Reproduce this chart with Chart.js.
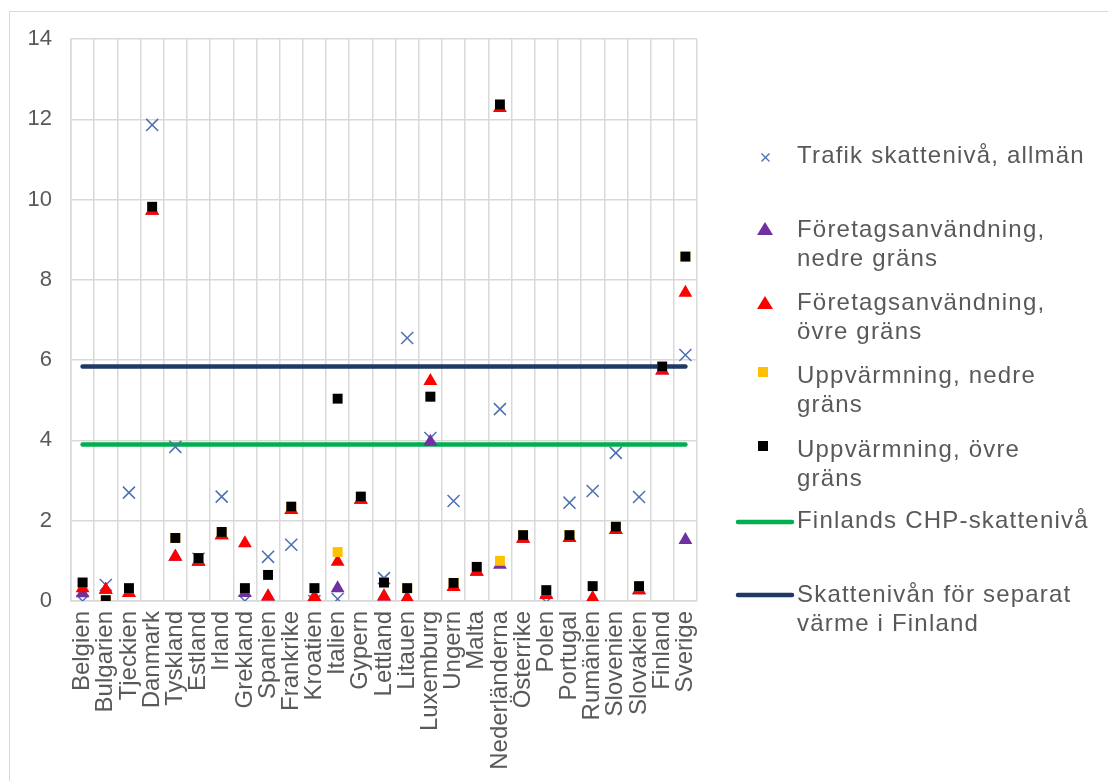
<!DOCTYPE html>
<html>
<head>
<meta charset="utf-8">
<script src="https://cdn.jsdelivr.net/npm/chart.js@4/dist/chart.umd.min.js"></script>
<style>
  html, body { margin: 0; padding: 0; background: #fff; }
  #wrap { position: relative; width: 1108px; height: 781px; overflow: hidden; }
  #frame { position: absolute; left: 9px; top: 11px; width: 1200px; height: 900px;
           border-left: 1.5px solid #d9d9d9; border-top: 1.5px solid #d9d9d9; }
  #chart { position: absolute; left: 0; top: 0; }
  .item { position: absolute; left: 797px; font-family: 'Liberation Sans', Arial, sans-serif;
          font-size: 24px; line-height: 29px; letter-spacing: 1.2px; color: #595959; white-space: nowrap; }
  .mark { position: absolute; }
</style>
</head>
<body>
<div id="wrap">
  <div id="frame"></div>
  <canvas id="chart" width="1108" height="781"></canvas>

  <svg class="mark" style="left:760px;top:152px" width="11" height="11"><path d="M1.5 1.5L9.5 9.5M9.5 1.5L1.5 9.5" stroke="#4e6fb0" stroke-width="1.3"/></svg>
  <div class="item" style="top:140px">Trafik skattenivå, allmän</div>

  <svg class="mark" style="left:757px;top:222px" width="16" height="13"><polygon points="8,0 16,13 0,13" fill="#7030a0"/></svg>
  <div class="item" style="top:214px">Företagsanvändning,<br>nedre gräns</div>

  <svg class="mark" style="left:757px;top:296px" width="16" height="13"><polygon points="8,0 16,13 0,13" fill="#ff0000"/></svg>
  <div class="item" style="top:287px">Företagsanvändning,<br>övre gräns</div>

  <svg class="mark" style="left:758px;top:367px" width="10" height="10"><rect width="10" height="10" fill="#ffc000"/></svg>
  <div class="item" style="top:360px">Uppvärmning, nedre<br>gräns</div>

  <svg class="mark" style="left:758px;top:441px" width="10" height="10"><rect width="10" height="10" fill="#000"/></svg>
  <div class="item" style="top:434px">Uppvärmning, övre<br>gräns</div>

  <svg class="mark" style="left:735px;top:518px" width="60" height="8"><line x1="3" y1="4" x2="57" y2="4" stroke="#00b050" stroke-width="4.5" stroke-linecap="round"/></svg>
  <div class="item" style="top:505px">Finlands CHP-skattenivå</div>

  <svg class="mark" style="left:735px;top:591px" width="60" height="8"><line x1="3" y1="4" x2="57" y2="4" stroke="#1f3864" stroke-width="4.5" stroke-linecap="round"/></svg>
  <div class="item" style="top:579px">Skattenivån för separat<br>värme i Finland</div>
</div>

<script>
// kategorier
const countries = ['Belgien', 'Bulgarien', 'Tjeckien', 'Danmark', 'Tyskland', 'Estland', 'Irland',
  'Grekland', 'Spanien', 'Frankrike', 'Kroatien', 'Italien', 'Gypern', 'Lettland', 'Litauen',
  'Luxemburg', 'Ungern', 'Malta', 'Nederländerna', 'Österrike', 'Polen', 'Portugal', 'Rumänien',
  'Slovenien', 'Slovakien', 'Finland', 'Sverige'];

const yTicks = [0, 2, 4, 6, 8, 10, 12, 14];

// serier
const trafik = [0, 0.4, 2.7, 11.86, 3.84, 1.05, 2.6, 0, 1.1, 1.4, 0, 0.05, null, 0.57, 6.55,
  4.06, 2.49, null, 4.78, null, -0.03, 2.45, 2.74, 3.69, 2.59, null, 6.13];
const foretagNedre = [0.19, 0.28, 0.2, 9.72, 1.1, 0.98, 1.64, 0.2, 0.11, 2.27, 0.1, 0.32, 2.52, 0.11, 0.07,
  3.97, 0.35, 0.73, 0.9, 1.55, 0.15, 1.57, 0.07, 1.77, 0.27, 5.74, 1.52];
const foretagOvre = [0.32, 0.28, 0.2, 9.72, 1.1, 0.98, 1.64, 1.44, 0.11, 2.27, 0.1, 0.98, 2.52, 0.11, 0.07,
  5.48, 0.35, 0.73, 12.28, 1.55, 0.15, 1.57, 0.07, 1.77, 0.27, 5.74, 7.68];
const varmeNedre = [0.46, 0.02, 0.32, 9.82, 1.57, 1.07, 1.72, 0.32, 0.65, 2.35, 0.32, 1.22, 2.6, 0.46, 0.32,
  5.09, 0.45, 0.85, 1.0, 1.64, 0.27, 1.64, 0.37, 1.85, 0.37, 5.84, 8.58];
const varmeOvre = [0.46, 0.02, 0.32, 9.82, 1.57, 1.07, 1.72, 0.32, 0.65, 2.35, 0.32, 5.04, 2.6, 0.46, 0.32,
  5.09, 0.45, 0.85, 12.37, 1.64, 0.27, 1.64, 0.37, 1.85, 0.37, 5.84, 8.58];
const finlandChp = [3.9, 3.9, 3.9, 3.9, 3.9, 3.9, 3.9, 3.9, 3.9, 3.9, 3.9, 3.9, 3.9, 3.9, 3.9,
  3.9, 3.9, 3.9, 3.9, 3.9, 3.9, 3.9, 3.9, 3.9, 3.9, 3.9, 3.9];
const separatVarme = [5.84, 5.84, 5.84, 5.84, 5.84, 5.84, 5.84, 5.84, 5.84, 5.84, 5.84, 5.84, 5.84, 5.84, 5.84,
  5.84, 5.84, 5.84, 5.84, 5.84, 5.84, 5.84, 5.84, 5.84, 5.84, 5.84, 5.84];

const FONT = "'Liberation Sans', Arial, sans-serif";
const TEXT = '#595959';
const GRID = '#d9d9d9';

function points(label, data, style, color, radius, order) {
  return {
    type: 'line', label, data, order,
    showLine: false,
    pointStyle: style,
    pointRadius: radius,
    pointHoverRadius: radius,
    pointBackgroundColor: color,
    pointBorderColor: color,
    pointBorderWidth: style === 'crossRot' ? 1.5 : 0,
    borderColor: color,
    backgroundColor: color
  };
}

function level(label, data, color, order) {
  return {
    type: 'line', label, data, order,
    borderColor: color,
    borderWidth: 4.5,
    borderCapStyle: 'round',
    pointRadius: 0,
    fill: false
  };
}

new Chart(document.getElementById('chart'), {
  type: 'line',
  data: {
    labels: countries,
    datasets: [
      points('Uppvärmning, övre gräns', varmeOvre, 'rect', '#000000', 7, 1),
      points('Uppvärmning, nedre gräns', varmeNedre, 'rect', '#ffc000', 7, 2),
      points('Företagsanvändning, övre gräns', foretagOvre, 'triangle', '#ff0000', 8, 3),
      points('Företagsanvändning, nedre gräns', foretagNedre, 'triangle', '#7030a0', 8, 4),
      points('Trafik skattenivå, allmän', trafik, 'crossRot', '#4e6fb0', 8.5, 5),
      level('Finlands CHP-skattenivå', finlandChp, '#00b050', 6),
      level('Skattenivån för separat värme i Finland', separatVarme, '#1f3864', 7)
    ]
  },
  options: {
    responsive: false,
    animation: false,
    layout: { padding: { left: 0, top: 39, right: 411, bottom: 0 } },
    plugins: { legend: { display: false }, tooltip: { enabled: false } },
    scales: {
      x: {
        offset: true,
        grid: { offset: true, color: GRID, lineWidth: 1.5, drawTicks: false },
        border: { color: GRID, width: 1.5 },
        ticks: {
          autoSkip: false, minRotation: 90, maxRotation: 90, padding: 10,
          color: TEXT, font: { family: FONT, size: 24 }
        },
        afterFit: (scale) => { scale.height = 180; }
      },
      y: {
        min: 0, max: 14,
        afterBuildTicks: (scale) => { scale.ticks = yTicks.map(v => ({ value: v })); },
        grid: { color: GRID, lineWidth: 1.5, drawTicks: false },
        border: { color: GRID, width: 1.5 },
        ticks: { padding: 19, color: TEXT, font: { family: FONT, size: 22 } },
        afterFit: (scale) => { scale.width = 71; }
      }
    }
  }
});
</script>
</body>
</html>
